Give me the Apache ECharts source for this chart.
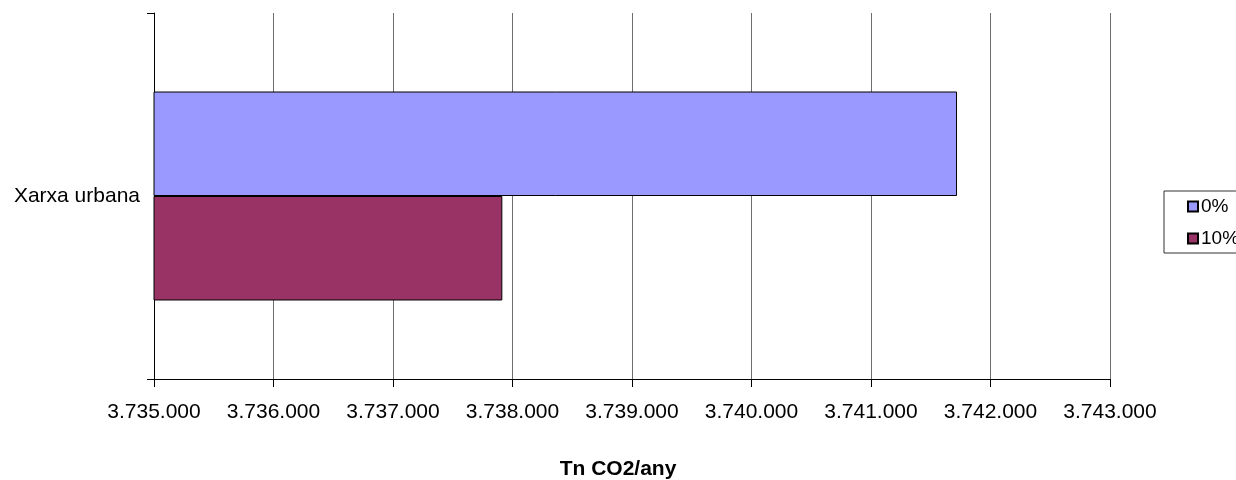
<!DOCTYPE html>
<html>
<head>
<meta charset="utf-8">
<script src="https://cdn.jsdelivr.net/npm/echarts@6/dist/echarts.min.js"></script>
<style>
  html, body { margin: 0; padding: 0; background: #ffffff; }
  #chart { width: 1236px; height: 480px; }
</style>
</head>
<body>
<div id="chart"></div>
<script>
// Emissions per scenario for the urban network (tonnes CO2 per year)
const categories = ['Xarxa urbana'];
const seriesNames = ['0%', '10%'];
const values0 = [3741720];
const values10 = [3737915];
const axisMin = 3735000;
const axisMax = 3743000;
const axisStep = 1000;
const axisTitle = 'Tn CO2/any';

const FONT = '"Liberation Sans", Arial, sans-serif';

function thousands(v) {
  return String(Math.round(v)).replace(/\B(?=(\d{3})+(?!\d))/g, '.');
}

const chart = echarts.init(document.getElementById('chart'), null, { renderer: 'canvas' });

chart.setOption({
  animation: false,
  backgroundColor: '#ffffff',
  textStyle: { fontFamily: FONT, color: '#000000' },
  grid: { left: 154, right: 126, top: 13, bottom: 101, containLabel: false },
  // value-axis caption, centred on the whole chart
  title: {
    text: axisTitle,
    left: 'center',
    top: 459,
    padding: 0,
    textStyle: { fontFamily: FONT, fontSize: 21, fontWeight: 'bold', color: '#000000' }
  },
  legend: {
    orient: 'vertical',
    left: 1164,
    top: 191,
    padding: [6, 12, 5, 23],
    itemGap: 13,
    itemWidth: 10,
    itemHeight: 10,
    icon: 'rect',
    borderColor: '#333333',
    borderWidth: 1,
    data: seriesNames,
    textStyle: { fontFamily: FONT, fontSize: 19, color: '#000000', padding: [0, 0, 0, -2] }
  },
  xAxis: {
    type: 'value',
    min: axisMin,
    max: axisMax,
    interval: axisStep,
    axisLine: { show: true, lineStyle: { color: '#000000', width: 1 } },
    axisTick: { show: true, length: 8, lineStyle: { color: '#000000' } },
    axisLabel: {
      margin: 23,
      fontFamily: FONT,
      fontSize: 21,
      color: '#000000',
      formatter: thousands
    },
    splitLine: { show: true, lineStyle: { color: '#6e6e6e', width: 1 } }
  },
  yAxis: {
    type: 'category',
    data: categories,
    inverse: true,
    axisLine: { show: true, lineStyle: { color: '#000000', width: 1 } },
    axisTick: { show: true, length: 7, inside: false, lineStyle: { color: '#000000' } },
    axisLabel: { margin: 14, fontFamily: FONT, fontSize: 21, color: '#000000' },
    splitLine: { show: false }
  },
  series: [
    {
      name: seriesNames[0],
      type: 'bar',
      data: values0,
      barGap: '0%',
      barCategoryGap: '42.9%',
      itemStyle: { color: '#9999ff', borderColor: '#000000', borderWidth: 1 }
    },
    {
      name: seriesNames[1],
      type: 'bar',
      data: values10,
      barGap: '0%',
      barCategoryGap: '42.9%',
      itemStyle: { color: '#993366', borderColor: '#000000', borderWidth: 1 }
    }
  ]
});
</script>
</body>
</html>
